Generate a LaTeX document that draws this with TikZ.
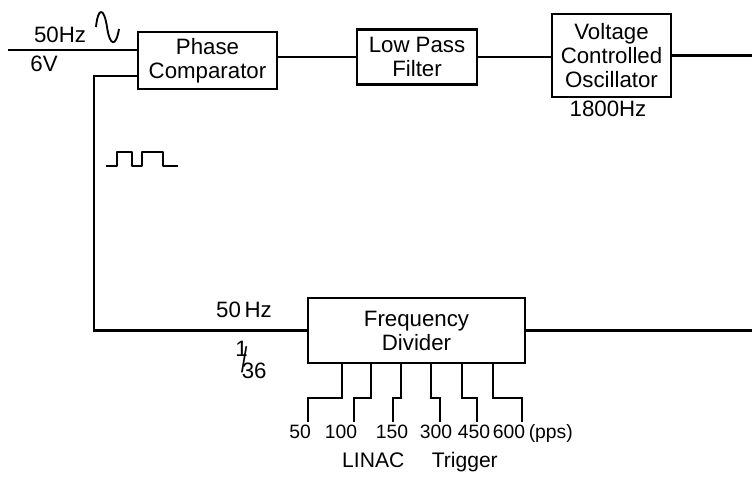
\documentclass[tikz,border=0pt]{standalone}
\usepackage{fontspec}
\setmainfont{Liberation Sans}
\usetikzlibrary{calc}

\begin{document}
\begin{tikzpicture}[x=0.03cm, y=-0.03cm, line width=2.1pt,
  font=\fontsize{19}{20.5}\selectfont,
  blockbox/.style={draw, align=center, inner sep=2pt},
  wavesign/.style={line width=1.6pt, line join=round},
  outlbl/.style={inner sep=1pt, anchor=base, font=\fontsize{16.5}{18}\selectfont}]
\useasboundingbox (0,0) rectangle (752,478);

% blocks
\node[blockbox, minimum width=4.17cm, minimum height=1.71cm] (pc) at (207.5,60.5) {Phase\\Comparator};
\node[blockbox, minimum width=3.6cm, minimum height=1.65cm] (lpf) at (417,57) {Low Pass\\Filter};
\node[blockbox, minimum width=3.57cm, minimum height=2.49cm] (vco) at (611.5,55.5) {Voltage\\Controlled\\Oscillator};
\node[blockbox, minimum width=6.51cm, minimum height=1.95cm] (fd) at (416.5,330.5) {Frequency\\Divider};

% free ends
\coordinate (src) at (8,50);
\coordinate (fbin) at (94,76);
\coordinate (vcoout) at (752,55.5);
\coordinate (fdout) at (752,330.5);

% connectors
\draw (src) -- (src -| pc.west);
\draw (pc.east |- lpf.west) -- (lpf.west);
\draw (lpf.east) -- (vco.west |- lpf.east);
\draw (vco.east) -- (vcoout);
\draw (fd.east) -- (fdout);
\draw (fd.west) -| (fbin) -- (fbin -| pc.west);

% labels
\node (inhz) at (60,35) {50Hz};
\node (inv) at (44,64) {6V};
\node (vcohz) at (608,109) {1800Hz};
\node (fdhz) at (244,310) {50\,Hz};
\node[inner sep=0pt] (ratio) at (251,360)
  {\raisebox{0.5em}{1}\kern-0.3em\raisebox{-0.2em}{\scalebox{1}[1.6]{/}}\kern-0.25em\raisebox{-0.45em}{36}};

% signal shapes
\draw[wavesign] (96,27) .. controls (98,7) and (104,7) .. (107,27)
  .. controls (110,47) and (116,47) .. (119,29);
\draw[wavesign] (106,166) -- (117,166) -- (117,152) -- (132,152) -- (132,166)
  -- (142,166) -- (142,152) -- (163,152) -- (163,166) -- (178,166);

% trigger outputs
\foreach \val/\cx in {50/300, 100/341, 150/392, 300/436, 450/474, 600/509}
  \node[outlbl] (f\val) at (\cx,438) {\val};
\node[outlbl, inner xsep=0pt, anchor=base west] (pps) at (f600.base east) {(pps)};
\foreach \val/\bx/\ex in {50/342/308, 100/371/354, 150/401/393, 300/431/440, 450/462/477, 600/493/522} {
  \coordinate (tapa) at (\bx,398);
  \coordinate (tapb) at (\ex,398);
  \draw (fd.south -| tapa) -- (tapa) -- (tapb) -- (tapb |- f\val.north);
}
\node[font=\fontsize{18}{20}\selectfont] (trig) at (420,462) {LINAC\hspace{1.3em}Trigger};
\end{tikzpicture}
\end{document}
